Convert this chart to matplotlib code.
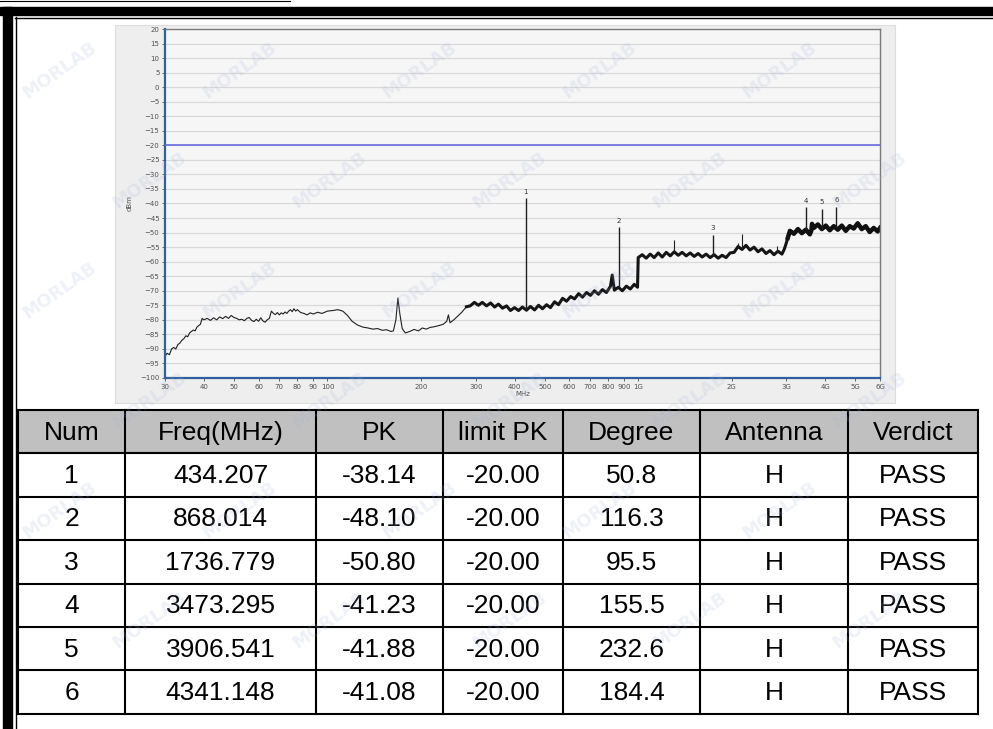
import numpy as np
import matplotlib.pyplot as plt
from matplotlib.patches import Rectangle

# spectrum trace (MHz, dBm)
trace_mhz = [30, 30.5, 31, 31.5, 32, 32.5, 33, 33.5, 34, 34.5, 35, 35.5, 36, 36.5, 37, 37.5,
             38, 38.5, 39, 39.5, 40, 41, 42, 43, 44, 45, 46, 47, 48, 49, 50, 51, 52, 53, 54,
             55, 56, 57, 58, 59, 60, 61, 62, 63, 64, 65, 66, 67, 68, 69, 70, 71, 72, 73, 74,
             75, 76, 77, 78, 79, 80, 82, 84, 86, 88, 90, 93, 96, 100, 104, 108, 112, 116,
             120, 125, 130, 135, 140, 145, 150, 155, 160, 163, 166, 168.5, 171, 174, 178,
             184, 190, 196, 202, 208, 214, 220, 228, 236, 242, 245, 248, 255, 262, 270,
             280, 288, 297, 306, 315, 325, 335, 345, 355, 366, 377, 388, 400, 412, 424, 437,
             450, 464, 478, 492, 507, 522, 538, 554, 571, 588, 606, 624, 643, 662, 682, 702,
             723, 745, 767, 790, 814, 825, 838, 863, 889, 916, 943, 971, 995, 1000, 1030,
             1061, 1093, 1126, 1160, 1195, 1231, 1268, 1306, 1345, 1385, 1427, 1470, 1514,
             1559, 1606, 1654, 1704, 1755, 1808, 1862, 1918, 1975, 2035, 2096, 2159, 2223,
             2290, 2359, 2430, 2502, 2578, 2655, 2735, 2817, 2901, 2950, 2988, 3030, 3078,
             3170, 3265, 3363, 3464, 3568, 3610, 3625, 3675, 3785, 3899, 4016, 4136, 4260,
             4388, 4520, 4655, 4795, 4939, 5087, 5240, 5397, 5559, 5726, 5898, 6000]
trace_dbm = [-92.5, -91.5, -92, -90, -89.5, -90, -88.5, -88, -87, -86.5, -85.5, -85.8, -84.5,
             -84, -83.5, -83.8, -82.5, -82, -81.5, -79.5, -80, -79.5, -80.2, -79.3, -80, -79,
             -79.6, -78.8, -79.5, -78.5, -79.2, -79.5, -80, -79.8, -80.3, -79.5, -79.2, -80.2,
             -80.6, -79.8, -80.5, -79.3, -80.4, -80.8, -80, -79.5, -77, -77.8, -78.2, -77.5,
             -78.3, -77.6, -78, -77.3, -77.8, -77, -76.5, -77.2, -76.2, -77, -76.5, -77.5,
             -77.8, -78.3, -77.6, -78, -77.4, -77.8, -77, -76.8, -76.5, -77, -78.5, -80.5,
             -81.8, -82.5, -82.8, -83.2, -83, -83.6, -83.4, -84, -83.8, -80, -72.5, -78, -83,
             -84.5, -84, -83.3, -83.8, -82.8, -83.2, -82.6, -82.4, -82, -81.5, -80.5, -78.3,
             -81, -80, -78.8, -77.5,
             -75.5, -75.2, -74.0, -75.0, -74.0, -75.2, -74.2, -75.6, -74.6, -76.0, -75.2,
             -76.8, -75.8, -76.8, -75.6, -76.7, -75.4, -76.6, -75.0, -76.2, -74.8, -75.8,
             -73.8, -74.8, -72.6, -73.6, -72.0, -72.8, -71.0, -72.2, -70.6, -71.6, -70.0,
             -71.2, -69.6, -70.6, -68.5, -64.6, -69.8, -68.8, -70.0, -68.4, -69.4, -67.8,
             -68.8, -58.6, -57.6, -58.8, -57.4, -58.6, -57.0, -58.4, -56.8, -58.0, -56.6,
             -57.8, -56.8, -58.0, -57.0, -58.2, -57.2, -58.4, -57.4, -58.6, -57.6, -58.8,
             -57.8, -58.6, -57.0, -56.8, -54.8, -55.8, -54.4, -56.0, -55.0, -56.6, -55.6,
             -57.2, -56.2, -57.6, -56.4, -57.4, -55.8, -54.0, -51.8, -49.4, -50.4, -48.8,
             -50.2, -49.0, -50.6, -49.2, -47.0, -48.4, -47.2, -48.8, -47.6, -49.2, -47.8,
             -49.0, -47.6, -49.4, -47.8, -48.6, -46.8, -48.8, -47.8, -49.8, -48.4, -49.6,
             -48.4]

# small unlabeled spurs
minor_mhz = [1300, 2100, 2165, 2800]
minor_dbm = [-52.5, -53.5, -50.5, -54.5]

# marker table
mark_num = [1, 2, 3, 4, 5, 6]
mark_mhz = [434.207, 868.014, 1736.779, 3473.295, 3906.541, 4341.148]
mark_pk = [-38.14, -48.10, -50.80, -41.23, -41.88, -41.08]
limit_pk = -20.00
degree = [50.8, 116.3, 95.5, 155.5, 232.6, 184.4]
antenna = ["H", "H", "H", "H", "H", "H"]
verdict = ["PASS", "PASS", "PASS", "PASS", "PASS", "PASS"]
col_names = ["Num", "Freq(MHz)", "PK", "limit PK", "Degree", "Antenna", "Verdict"]

xtick_mhz = [30, 40, 50, 60, 70, 80, 90, 100, 200, 300, 400, 500, 600, 700, 800, 900,
             1000, 2000, 3000, 4000, 5000, 6000]
xtick_lab = ["30", "40", "50", "60", "70", "80", "90", "100", "200", "300", "400", "500",
             "600", "700", "800", "900", "1G", "2G", "3G", "4G", "5G", "6G"]
ytick_db = list(range(-100, 21, 5))

W, H = 993, 729
fig = plt.figure(figsize=(W / 100, H / 100), dpi=100)

# background layer in pixel coords: frame, screenshot box, table
bg = fig.add_axes([0, 0, 1, 1], zorder=0)
bg.set_xlim(0, W)
bg.set_ylim(H, 0)
bg.axis("off")

bg.plot([0, 290], [0.6, 0.6], color="k", lw=0.8)
bg.add_patch(Rectangle((0, 7), W, 8, color="k"))
bg.add_patch(Rectangle((3, 7), 9, H - 7, color="k"))
bg.plot([15, W], [17.5, 17.5], color="k", lw=1)
bg.plot([15.5, 15.5], [17, H], color="k", lw=1)

bg.add_patch(Rectangle((115, 25), 780, 378, facecolor="#eeeeee", edgecolor="#dddddd", lw=0.8))

col_x = [18, 125, 316, 443, 563, 700, 848, 978]
row_y = [410 + i * 43.4 for i in range(8)]
bg.add_patch(Rectangle((col_x[0], row_y[0]), col_x[-1] - col_x[0], row_y[1] - row_y[0],
                       facecolor="#c0c0c0", edgecolor="none"))
for x in col_x:
    bg.plot([x, x], [row_y[0], row_y[-1]], color="k", lw=1.5)
for y in row_y:
    bg.plot([col_x[0], col_x[-1]], [y, y], color="k", lw=1.5)

rows = [col_names]
for i in range(len(mark_num)):
    rows.append([str(mark_num[i]), f"{mark_mhz[i]:.3f}", f"{mark_pk[i]:.2f}",
                 f"{limit_pk:.2f}", f"{degree[i]:.1f}", antenna[i], verdict[i]])
for r, vals in enumerate(rows):
    yc = (row_y[r] + row_y[r + 1]) / 2
    for c, v in enumerate(vals):
        xc = (col_x[c] + col_x[c + 1]) / 2
        bg.text(xc, yc + 1, v, ha="center", va="center", fontsize=19,
                family="Liberation Sans", color="k")

# spectrum chart
ax = fig.add_axes([165 / W, 1 - 378 / H, 715 / W, 349 / H], zorder=1)
ax.set_facecolor("#f6f6f6")
ax.set_xscale("log")
ax.set_xlim(30, 6000)
ax.set_ylim(-100, 20)
for y in ytick_db:
    ax.axhline(y, color="#d9d9d9", lw=0.9, zorder=0)

tm = np.array(trace_mhz)
td = np.array(trace_dbm)
ax.plot(tm, td, color="#202020", lw=0.8, zorder=2)
hi = tm >= 280
ax.plot(tm[hi], td[hi], color="#151515", lw=2.2, zorder=2)
hi2 = tm >= 3000
ax.plot(tm[hi2], td[hi2], color="#101010", lw=3.2, zorder=2)

base = np.interp(minor_mhz, tm, td)
ax.vlines(minor_mhz, base, minor_dbm, color="#202020", lw=0.8, zorder=2)
base = np.interp(mark_mhz, tm, td)
ax.vlines(mark_mhz, base, mark_pk, color="#202020", lw=1.0, zorder=2)
for n, f, p in zip(mark_num, mark_mhz, mark_pk):
    ax.text(f, p + 1.2, str(n), ha="center", va="bottom", fontsize=5, color="#303030")

ax.axhline(limit_pk, color="#6b6be0", lw=1.2, zorder=3)

ax.set_xticks(xtick_mhz)
ax.set_xticklabels(xtick_lab)
ax.xaxis.set_minor_locator(plt.NullLocator())
ax.set_yticks(ytick_db)
ax.tick_params(labelsize=5, colors="#505050", length=2, width=0.6, pad=2)
ax.set_xlabel("MHz", fontsize=5, color="#505050", labelpad=1)
ax.set_ylabel("dBm", fontsize=5, color="#505050", labelpad=5)

for s in ["left", "bottom"]:
    ax.spines[s].set_color("#2f5f9f")
    ax.spines[s].set_linewidth(1.6)
for s in ["top", "right"]:
    ax.spines[s].set_color("#7a7a7a")
    ax.spines[s].set_linewidth(1.0)

# faint watermark, kept inside the picture
for j, yy in enumerate(range(70, 700, 110)):
    off = 0 if j % 2 == 0 else 90
    for xx in range(60 + off, 950, 180):
        fig.text(xx / W, 1 - yy / H, "MORLAB", fontsize=13, rotation=35, color="#9fb3d6",
                 alpha=0.18, ha="center", va="center", fontweight="bold", zorder=5)

fig.savefig("out.png", dpi=100)
